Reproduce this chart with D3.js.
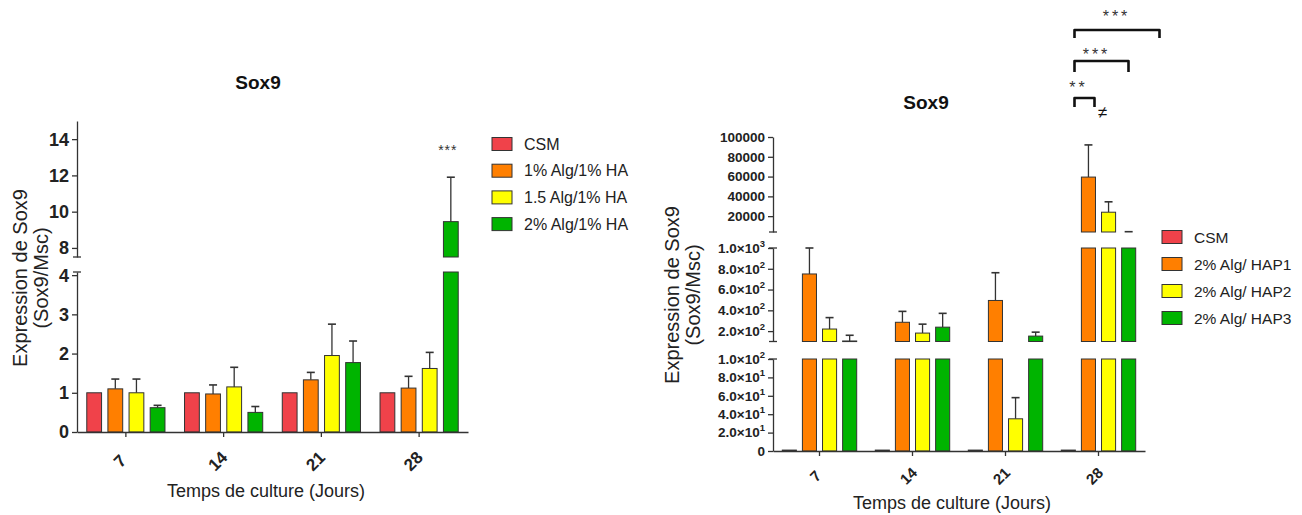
<!DOCTYPE html>
<html><head><meta charset="utf-8">
<script src="https://cdn.jsdelivr.net/npm/d3@7"></script>
<style>body{margin:0;background:#fff;} svg{display:block;font-family:"Liberation Sans",Arial,sans-serif;}</style>
</head><body><svg id="c" width="1302" height="515"></svg>
<script>
// ---------- DATA ----------
const groups = ["7", "14", "21", "28"];
const leftSeries = ["CSM", "1% Alg/1% HA", "1.5 Alg/1% HA", "2% Alg/1% HA"];
const leftCSM = [1, 1, 1, 1];
const leftAlg1 = [1.1, 0.97, 1.33, 1.12];
const leftAlg1Err = [0.25, 0.23, 0.19, 0.3];
const leftAlg15 = [1.0, 1.15, 1.95, 1.62];
const leftAlg15Err = [0.35, 0.5, 0.8, 0.41];
const leftAlg2 = [0.62, 0.5, 1.77, 9.45];
const leftAlg2Err = [0.06, 0.15, 0.55, 2.45];

const rightSeries = ["CSM", "2% Alg/ HAP1", "2% Alg/ HAP2", "2% Alg/ HAP3"];
const rightCSM = [1, 1, 1, 1];
const rightHAP1 = [750, 285, 495, 59500];
const rightHAP1Err = [250, 105, 267, 32500];
const rightHAP2 = [220, 181, 35, 24000];
const rightHAP2Err = [110, 86, 23, 10500];
const rightHAP3 = [105, 238, 152, 2000];
const rightHAP3Err = [55, 133, 38, 2300];

const leftUpperTicks = [8, 10, 12, 14];
const leftLowerTicks = [0, 1, 2, 3, 4];
const rightUpperTicks = [20000, 40000, 60000, 80000, 100000];
const rightMiddleTicks = [200, 400, 600, 800, 1000];
const rightLowerTicks = [0, 20, 40, 60, 80, 100];

const colors = ["#f0424a", "#ff7f00", "#ffff00", "#00b400"];
const AX = "#333";

const svg = d3.select("#c");

function sciParts(v) {
  if (v === 0) return ["0", null];
  const e = Math.floor(Math.log10(v));
  const m = v / Math.pow(10, e);
  return [m.toFixed(1) + "\u00d710", String(e)];
}

function panel(p) {
  const g = svg.append("g");
  const x0 = d3.scaleBand().domain(groups).range(p.xRange).paddingInner(0.2).paddingOuter(0.1);
  const x1 = d3.scaleBand().domain(d3.range(4)).range([0, x0.bandwidth()]).paddingInner(0.3);
  const segs = p.segments.map(s => Object.assign({}, s, {y: d3.scaleLinear().domain(s.domain).range(s.range)}));
  const bw = x1.bandwidth();

  // error bars + bars
  p.values.forEach((vals, si) => {
    vals.forEach((v, gi) => {
      const bx = x0(groups[gi]) + x1(si);
      const e = p.errs[si] ? p.errs[si][gi] : 0;
      segs.forEach(s => {
        const [d0, d1] = s.domain;
        if (e > 0) {
          const et = v + e;
          if (et > d0 && Math.max(v, d0) < d1) {
            const from = Math.max(v, d0), to = Math.min(et, d1);
            g.append("line").attr("x1", bx + bw / 2).attr("x2", bx + bw / 2)
              .attr("y1", s.y(from)).attr("y2", s.y(to)).attr("stroke", AX).attr("stroke-width", 1.3);
            if (et <= d1) g.append("line").attr("x1", bx + bw / 2 - p.cap).attr("x2", bx + bw / 2 + p.cap)
              .attr("y1", s.y(et)).attr("y2", s.y(et)).attr("stroke", AX).attr("stroke-width", 1.6);
          }
        }
        if (v > d0) {
          const top = Math.min(v, d1);
          g.append("rect").attr("x", bx).attr("width", bw).attr("y", s.y(top))
            .attr("height", Math.max(0.6, s.y(d0) - s.y(top)))
            .attr("fill", colors[si]).attr("stroke", AX).attr("stroke-width", 1);
        }
      });
    });
  });

  // y axis segments
  const axX = p.xRange[0];
  segs.forEach((s, i) => {
    const ax = g.append("g").attr("transform", `translate(${axX},0)`)
      .call(d3.axisLeft(s.y).tickValues(s.ticks).tickSize(p.tick).tickSizeOuter(0).tickFormat(() => ""));
    ax.selectAll("path,line").attr("stroke", AX).attr("stroke-width", 1.3);
    s.ticks.forEach(t => {
      const txt = g.append("text").attr("x", axX - p.tick - 3).attr("y", s.y(t)).attr("dy", "0.36em")
        .attr("text-anchor", "end").attr("font-weight", "bold").attr("font-size", p.tickFont).attr("fill", "#222");
      if (s.sci) {
        const [a, b] = sciParts(t);
        txt.append("tspan").text(a);
        if (b) txt.append("tspan").attr("dy", -6).attr("font-size", p.tickFont * 0.7).text(b);
      } else txt.text(t);
    });
    // caps at break ends
    const ends = [];
    if (i > 0) ends.push(s.range[1]);
    if (i < segs.length - 1) ends.push(s.range[0]);
    ends.forEach(yy => g.append("line").attr("x1", axX - 4).attr("x2", axX + 4).attr("y1", yy).attr("y2", yy)
      .attr("stroke", AX).attr("stroke-width", 1.3));
  });

  // x axis
  const baseY = segs[segs.length - 1].range[0];
  const xa = g.append("g").attr("transform", `translate(0,${baseY})`)
    .call(d3.axisBottom(x0).tickSize(5).tickSizeOuter(0).tickFormat(() => ""));
  xa.selectAll("path,line").attr("stroke", AX).attr("stroke-width", 1.3);
  groups.forEach(gr => {
    const cx = x0(gr) + x0.bandwidth() / 2 + p.xLabDx, cy = baseY + p.xLabDy;
    g.append("text").attr("transform", `translate(${cx},${cy}) rotate(-45)`).attr("dy", "0.35em")
      .attr("text-anchor", "middle").attr("font-weight", "bold").attr("font-size", p.xFont).attr("fill", "#222").text(gr);
  });

  // titles
  g.append("text").attr("x", p.title[0]).attr("y", p.title[1]).attr("text-anchor", "middle")
    .attr("font-weight", "bold").attr("font-size", 19).attr("fill", "#111").text("Sox9");
  g.append("text").attr("x", p.xTitle[0]).attr("y", p.xTitle[1]).attr("text-anchor", "middle")
    .attr("font-size", 18).attr("fill", "#222").text("Temps de culture (Jours)");
  g.append("text").attr("transform", `translate(${p.yTitle[0]},${p.yTitle[2]}) rotate(-90)`).attr("text-anchor", "middle")
    .attr("dy", "0.35em").attr("font-size", 20).attr("fill", "#222").text("Expression de Sox9");
  g.append("text").attr("transform", `translate(${p.yTitle[1]},${p.yTitle[2]}) rotate(-90)`).attr("text-anchor", "middle")
    .attr("dy", "0.35em").attr("font-size", 20).attr("fill", "#222").text("(Sox9/Msc)");

  // legend
  p.series.forEach((nm, i) => {
    const yy = p.legend[1] + i * p.legend[2];
    g.append("rect").attr("x", p.legend[0]).attr("y", yy - 6.5).attr("width", 20).attr("height", 13)
      .attr("fill", colors[i]).attr("stroke", AX).attr("stroke-width", 1);
    g.append("text").attr("x", p.legend[0] + 32).attr("y", yy).attr("dy", "0.36em")
      .attr("font-size", p.legFont).attr("fill", "#222").text(nm);
  });
  return {g, x0, x1, segs};
}

// ---------- LEFT ----------
const L = panel({
  xRange: [77, 468],
  segments: [
    {domain: [7.5, 15], range: [257, 121], ticks: leftUpperTicks},
    {domain: [0, 4.08], range: [432, 272], ticks: leftLowerTicks}
  ],
  values: [leftCSM, leftAlg1, leftAlg15, leftAlg2],
  errs: [null, leftAlg1Err, leftAlg15Err, leftAlg2Err],
  cap: 4, tick: 5, tickFont: 18, xFont: 17, xLabDx: -6, xLabDy: 29,
  title: [258, 89], xTitle: [266, 497], yTitle: [20, 41, 278],
  series: leftSeries, legend: [492, 144, 26.7], legFont: 16
});
// significance on left
{
  const gi = 3, si = 3;
  const cx = L.x0(groups[gi]) + L.x1(si) + L.x1.bandwidth() / 2 - 3;
  L.g.append("text").attr("x", cx).attr("y", 155).attr("text-anchor", "middle")
    .attr("font-size", 14).attr("letter-spacing", 1).attr("fill", "#333").text("***");
}

// ---------- RIGHT ----------
const R = panel({
  xRange: [773, 1145],
  segments: [
    {domain: [4000, 100000], range: [232, 137], ticks: rightUpperTicks},
    {domain: [100, 1000], range: [341.5, 248], ticks: rightMiddleTicks, sci: true},
    {domain: [0, 100], range: [451, 359], ticks: rightLowerTicks, sci: true}
  ],
  values: [rightCSM, rightHAP1, rightHAP2, rightHAP3],
  errs: [null, rightHAP1Err, rightHAP2Err, rightHAP3Err],
  cap: 4, tick: 5, tickFont: 13.5, xFont: 15, xLabDx: -4, xLabDy: 25,
  title: [926, 109], xTitle: [952, 509], yTitle: [672, 693, 295],
  series: rightSeries, legend: [1162, 237, 27], legFont: 15.5
});
// brackets on right
{
  const c = R.x0("28") + R.x0.bandwidth() / 2;
  const br = [
    {x1: c - 24, x2: c - 4, y: 98, leg: 9, lab: "**", lx: c - 20, ly: 93},
    {x1: c - 24, x2: c + 30, y: 61, leg: 11, lab: "***", lx: c - 2, ly: 60},
    {x1: c - 24, x2: c + 61, y: 30, leg: 8, lab: "***", lx: c + 18, ly: 22}
  ];
  br.forEach(b => {
    R.g.append("path").attr("d", `M${b.x1},${b.y + b.leg}V${b.y}H${b.x2}V${b.y + b.leg}`)
      .attr("fill", "none").attr("stroke", "#111").attr("stroke-width", 2.6).attr("stroke-linejoin", "round");
    R.g.append("text").attr("x", b.lx).attr("y", b.ly).attr("text-anchor", "middle")
      .attr("font-size", 16).attr("letter-spacing", 3).attr("fill", "#333").text(b.lab);
  });
  R.g.append("text").attr("x", c + 4).attr("y", 112).attr("dy", "0.35em").attr("text-anchor", "middle")
    .attr("font-size", 17).attr("fill", "#111").text("\u2260");
}
</script></body></html>
